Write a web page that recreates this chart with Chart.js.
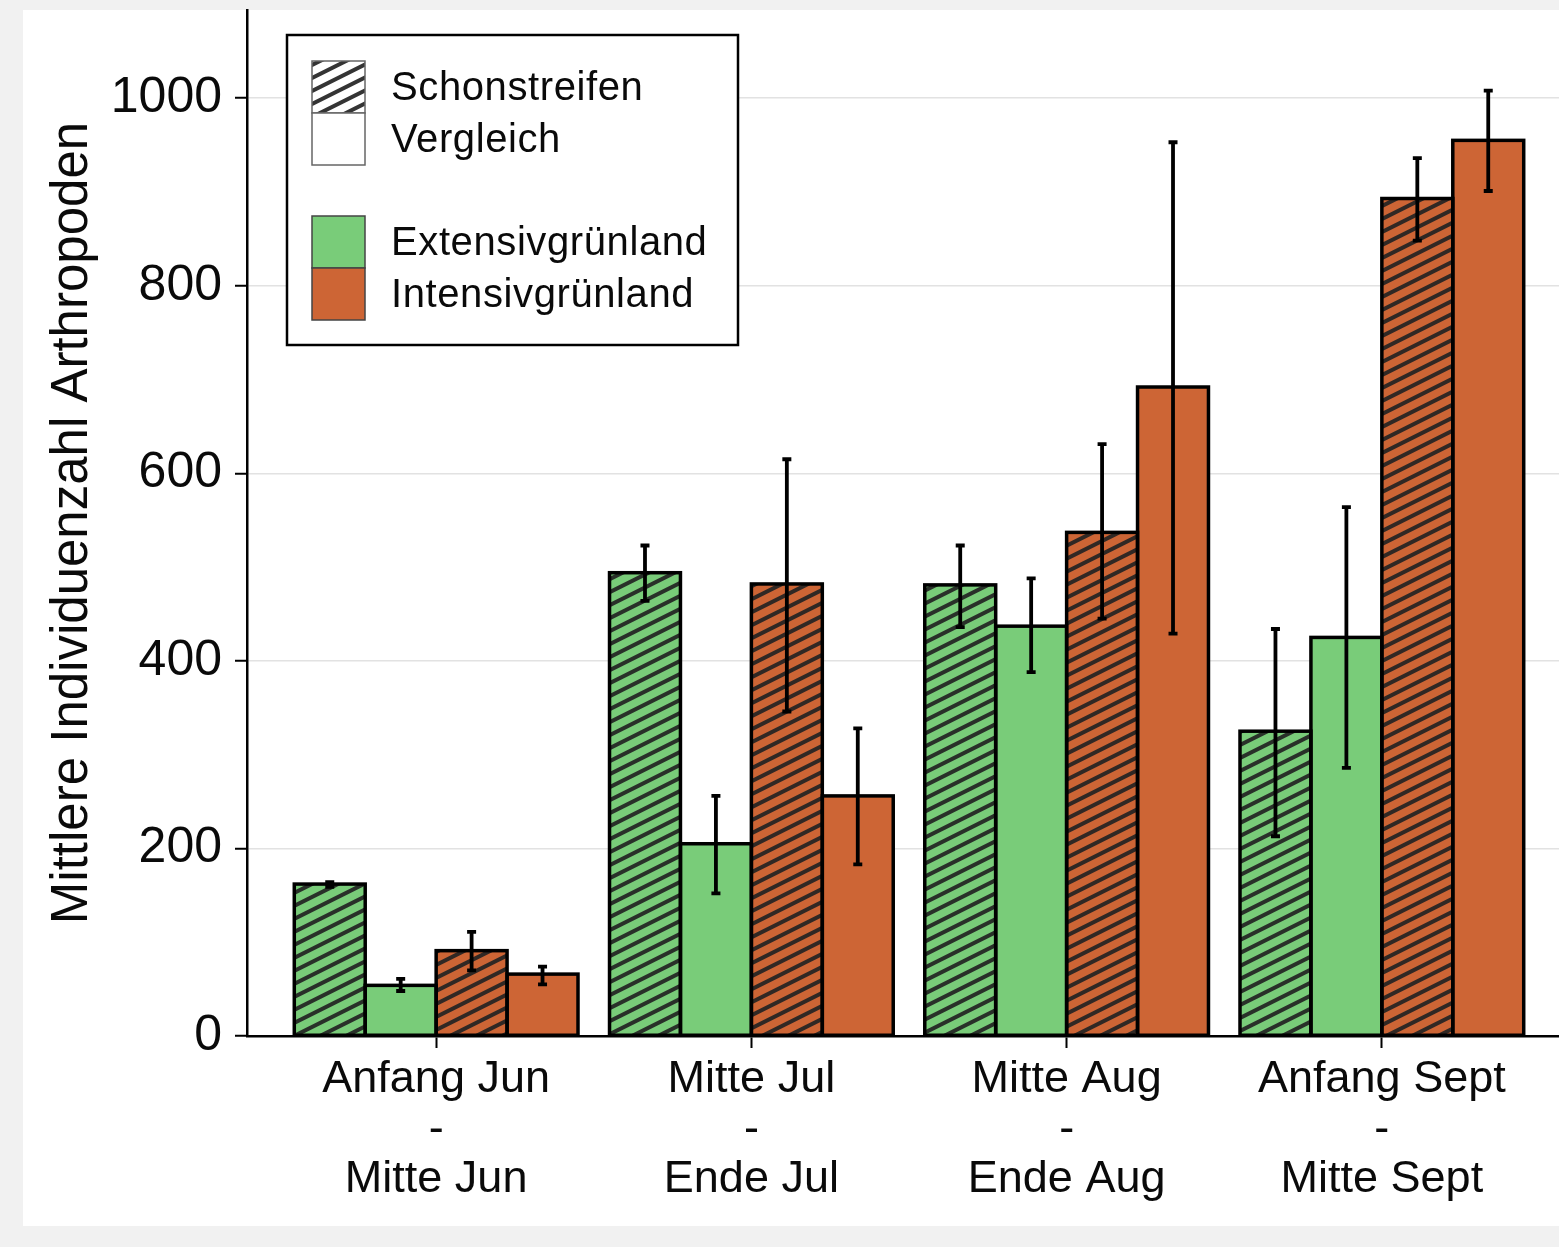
<!DOCTYPE html>
<html>
<head>
<meta charset="utf-8">
<script src="https://cdn.jsdelivr.net/npm/chart.js@4/dist/chart.umd.min.js"></script>
<style>
  html, body { margin: 0; padding: 0; background: #f1f1f1; overflow: hidden; width: 1559px; height: 1247px; }
  #panel { position: absolute; left: 23px; top: 10px; width: 1600px; height: 1216px; background: #ffffff; }
  #wrap { position: absolute; left: 0; top: 0; width: 1600px; height: 1247px; }
</style>
</head>
<body>
<div id="panel"></div>
<div id="wrap"><canvas id="c" width="1600" height="1247"></canvas></div>
<script>
// Sampling periods (multi-line tick labels)
const categories = [
  ['Anfang Jun', '-', 'Mitte Jun'],
  ['Mitte Jul', '-', 'Ende Jul'],
  ['Mitte Aug', '-', 'Ende Aug'],
  ['Anfang Sept', '-', 'Mitte Sept']
];
const yTicks = [0, 200, 400, 600, 800, 1000];

// Extensivgrünland – Schonstreifen
const extSchon   = [162, 494, 481, 325];
const extSchonLo = [159, 464, 436, 213];
const extSchonHi = [164, 523, 523, 434];
// Extensivgrünland – Vergleich
const extVerg    = [54, 205, 437, 425];
const extVergLo  = [48, 152, 388, 286];
const extVergHi  = [61, 256, 488, 564];
// Intensivgrünland – Schonstreifen
const intSchon   = [91, 482, 537, 893];
const intSchonLo = [70, 346, 445, 848];
const intSchonHi = [111, 615, 631, 936];
// Intensivgrünland – Vergleich
const intVerg    = [66, 256, 692, 955];
const intVergLo  = [55, 183, 429, 901];
const intVergHi  = [74, 328, 953, 1008];

const keyTexts = ['Schonstreifen', 'Vergleich', 'Extensivgrünland', 'Intensivgrünland'];
const yTitle = 'Mittlere Individuenzahl Arthropoden';

const GREEN = '#79cc79';
const ORANGE = '#cd6535';
const INK = '#0a0a0a';
const FONT = '"Liberation Sans", Arial, Helvetica, sans-serif';

Chart.defaults.font.family = FONT;

// diagonal hatching (slope 1:2) over an optional base colour
function hatch(base) {
  const t = document.createElement('canvas');
  t.width = 26; t.height = 13;
  const g = t.getContext('2d');
  g.fillStyle = base || '#ffffff';
  g.fillRect(0, 0, 26, 13);
  g.strokeStyle = 'rgba(35,35,35,0.92)';
  g.lineWidth = 4;
  for (let k = -1; k <= 1; k++) {
    g.beginPath();
    g.moveTo(-2, 14 + k * 13);
    g.lineTo(28, -1 + k * 13);
    g.stroke();
  }
  return g.createPattern(t, 'repeat');
}

const series = [
  { label: 'Extensivgrünland Schonstreifen', values: extSchon, lo: extSchonLo, hi: extSchonHi, fill: hatch(GREEN) },
  { label: 'Extensivgrünland Vergleich',     values: extVerg,  lo: extVergLo,  hi: extVergHi,  fill: GREEN },
  { label: 'Intensivgrünland Schonstreifen', values: intSchon, lo: intSchonLo, hi: intSchonHi, fill: hatch(ORANGE) },
  { label: 'Intensivgrünland Vergleich',     values: intVerg,  lo: intVergLo,  hi: intVergHi,  fill: ORANGE }
];

// bar outlines (centred on the edges) and error bars
const outlineAndErrors = {
  id: 'outlineAndErrors',
  afterDatasetsDraw(chart) {
    const ctx = chart.ctx;
    const y = chart.scales.y;
    ctx.save();
    ctx.strokeStyle = '#000';
    ctx.lineWidth = 3.5;
    series.forEach((s, di) => {
      chart.getDatasetMeta(di).data.forEach(bar => {
        const p = bar.getProps(['x', 'y', 'base', 'width'], true);
        ctx.strokeRect(p.x - p.width / 2, p.y, p.width, p.base - p.y);
      });
    });
    ctx.lineWidth = 3.8;
    ctx.lineCap = 'butt';
    series.forEach((s, di) => {
      chart.getDatasetMeta(di).data.forEach((bar, i) => {
        const x = bar.getProps(['x'], true).x;
        const yl = y.getPixelForValue(s.lo[i]);
        const yh = y.getPixelForValue(s.hi[i]);
        ctx.beginPath();
        ctx.moveTo(x, yl); ctx.lineTo(x, yh);
        ctx.moveTo(x - 4.5, yl); ctx.lineTo(x + 4.5, yl);
        ctx.moveTo(x - 4.5, yh); ctx.lineTo(x + 4.5, yh);
        ctx.stroke();
      });
    });
    ctx.restore();
  }
};

// boxed key: pattern (hatched / plain) and land-use colours
const keyBox = {
  id: 'keyBox',
  afterDraw(chart) {
    const { ctx, chartArea } = chart;
    const L = chartArea.left + 40, T = chartArea.top + 25, W = 451, H = 310;
    ctx.save();
    ctx.fillStyle = '#fff';
    ctx.fillRect(L, T, W, H);
    ctx.lineWidth = 2.5;
    ctx.strokeStyle = '#000';
    ctx.strokeRect(L, T, W, H);
    const sx = L + 25, sw = 53, sh = 52;
    const rows = [
      { y: T + 26,  fill: hatch('#ffffff'), border: '#666' },
      { y: T + 78,  fill: '#ffffff',        border: '#666' },
      { y: T + 181, fill: GREEN,            border: '#444' },
      { y: T + 233, fill: ORANGE,           border: '#444' }
    ];
    rows.forEach((r, i) => {
      ctx.fillStyle = r.fill;
      ctx.fillRect(sx, r.y, sw, sh);
      ctx.lineWidth = 1.5;
      ctx.strokeStyle = r.border;
      ctx.strokeRect(sx, r.y, sw, sh);
      ctx.fillStyle = INK;
      ctx.font = '40px ' + FONT;
      ctx.letterSpacing = '0.6px';
      ctx.textBaseline = 'middle';
      ctx.textAlign = 'left';
      ctx.fillText(keyTexts[i], L + 104, r.y + sh / 2 + 2);
    });
    ctx.restore();
  }
};

new Chart(document.getElementById('c'), {
  type: 'bar',
  data: {
    datasets: series.map(s => ({
      label: s.label,
      data: s.values.map((v, i) => ({ x: i, y: v })),
      backgroundColor: s.fill,
      borderWidth: 0,
      inflateAmount: 0
    }))
  },
  options: {
    responsive: false,
    animation: false,
    layout: { padding: { left: 0, top: 10, right: 29, bottom: 0 } },
    datasets: { bar: { categoryPercentage: 0.9, barPercentage: 1.0 } },
    plugins: { legend: { display: false }, tooltip: { enabled: false } },
    scales: {
      x: {
        type: 'linear',
        min: -0.6,
        max: 3.6,
        offset: false,
        afterBuildTicks: s => { s.ticks = categories.map((c, i) => ({ value: i })); },
        afterFit: s => { s.height = 211; s.paddingLeft = 0; s.paddingRight = 0; },
        grid: { offset: false, drawOnChartArea: false, drawTicks: true, tickLength: 12, tickColor: '#000', tickWidth: 2 },
        border: { display: true, color: '#000', width: 2.5 },
        ticks: {
          autoSkip: false, maxRotation: 0, minRotation: 0, padding: 7, color: INK,
          font: { size: 45, lineHeight: 50 / 45 },
          callback: v => categories[v]
        }
      },
      y: {
        min: 0,
        max: 1094,
        afterBuildTicks: s => { s.ticks = yTicks.map(v => ({ value: v })); },
        afterFit: s => { s.width = 247; s.paddingTop = 0; s.paddingBottom = 0; },
        grid: { color: '#e2e2e2', lineWidth: 1.5, tickLength: 12, tickColor: '#000', tickWidth: 2 },
        border: { color: '#000', width: 2.5 },
        ticks: { padding: 13, color: INK, font: { size: 50 }, callback: v => String(v) },
        title: {
          display: true, text: yTitle, color: INK,
          font: { size: 51, lineHeight: 1.2 },
          padding: { top: 42, bottom: 0 }
        }
      }
    }
  },
  plugins: [outlineAndErrors, keyBox]
});
</script>
</body>
</html>
